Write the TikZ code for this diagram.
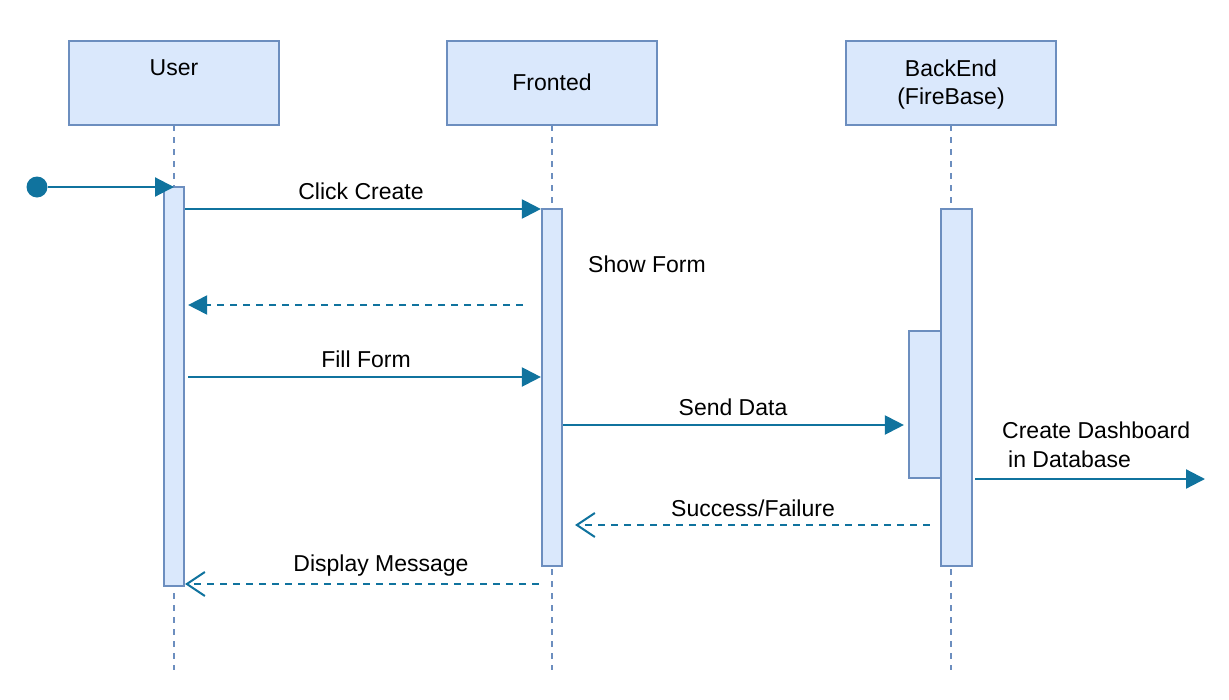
\documentclass[tikz,border=0pt]{standalone}
\usepackage{fontspec}
\setmainfont{Liberation Sans}
\usetikzlibrary{arrows.meta,calc}
\definecolor{boxfill}{HTML}{DAE8FC}
\definecolor{boxline}{HTML}{6C8EBF}
\definecolor{arr}{HTML}{10739E}
\begin{document}
\begin{tikzpicture}[x=1pt,y=-1pt,
  every node/.style={font=\fontsize{23}{28}\selectfont},
  head/.style={draw=boxline,fill=boxfill,line width=2.2pt,minimum width=210pt,minimum height=84pt,inner sep=0pt},
  actbar/.style={draw=boxline,fill=boxfill,line width=2.2pt,inner sep=0pt},
  life/.style={draw=boxline,line width=2pt,dash pattern=on 6pt off 6pt},
  msg/.style={draw=arr,line width=2.2pt,-{Triangle[length=19pt,width=19pt]}},
  ret/.style={draw=arr,line width=2pt,dash pattern=on 7pt off 6pt,-{Straight Barb[length=18pt,width=24pt,line width=2pt]}},
  retf/.style={draw=arr,line width=2pt,dash pattern=on 7pt off 6pt,-{Triangle[length=19pt,width=19pt]}},
  lbl/.style={inner sep=0pt,text=black}]
\useasboundingbox (0,0) rectangle (1229,699);
% lifelines
\draw[life] (174,125) -- (174,670);
\draw[life] (552,125) -- (552,670);
\draw[life] (951,125) -- (951,670);
% heads
\node[head] (user) at (174,83) {};
\node[lbl] (userT) at (174,68) {User};
\node[head] (front) at (552,83) {};
\node[lbl] (frontT) at (552,82) {Fronted};
\node[head] (back) at (951,83) {};
\node[lbl] (backT1) at (951,68) {BackEnd};
\node[lbl] (backT2) at (951,99) {(FireBase)};
% activation bars
\node[actbar,minimum width=20pt,minimum height=399pt] (ua) at (174,386.5) {};
\node[actbar,minimum width=20pt,minimum height=357pt] (fa) at (552,387.5) {};
\node[actbar,minimum width=31pt,minimum height=357pt] (ba) at (956.5,387.5) {};
\node[actbar,minimum width=32pt,minimum height=147pt] (bi) at (925,404.5) {};
% start
\node[circle,fill=arr,minimum size=21pt,inner sep=0pt] (start) at (37,187) {};
\coordinate (uatop) at (174,187);
\draw[msg] (start) -- (uatop);
% Click Create
\draw[msg] (ua.east |- 0,209) -- (fa.west |- 0,209);
\node[lbl] (l1) at (361,191) {Click Create};
% Show Form
\node[lbl] (l2) at (647,264) {Show Form};
\coordinate (sf) at (523,305);
\draw[retf] (sf) -- ($(ua.east |- 0,305)+(3,0)$);
% Fill Form
\draw[msg] ($(ua.east |- 0,377)+(3,0)$) -- (fa.west |- 0,377);
\node[lbl] (l3) at (366,359) {Fill Form};
% Send Data
\draw[msg] (fa.east |- 0,425) -- ($(bi.west |- 0,425)+(-4,0)$);
\node[lbl] (l4) at (733,407) {Send Data};
% Create dashboard
\coordinate (cdEnd) at (1205,479);
\draw[msg] ($(ba.east |- 0,479)+(2,0)$) -- (cdEnd);
\node[lbl,anchor=west] (l5a) at (1002,430) {Create Dashboard};
\node[lbl,anchor=west] (l5b) at (1008,459) {in Database};
% Success/Failure
\draw[ret] ($(ba.west |- 0,525)+(-10,0)$) -- ($(fa.east |- 0,525)+(12,0)$);
\node[lbl] (l6) at (753,508) {Success/Failure};
% Display Message
\draw[ret] ($(fa.west |- 0,584)+(-2,0)$) -- (ua.east |- 0,584);
\node[lbl] (l7) at (381,566) {Display Message};
\end{tikzpicture}
\end{document}
